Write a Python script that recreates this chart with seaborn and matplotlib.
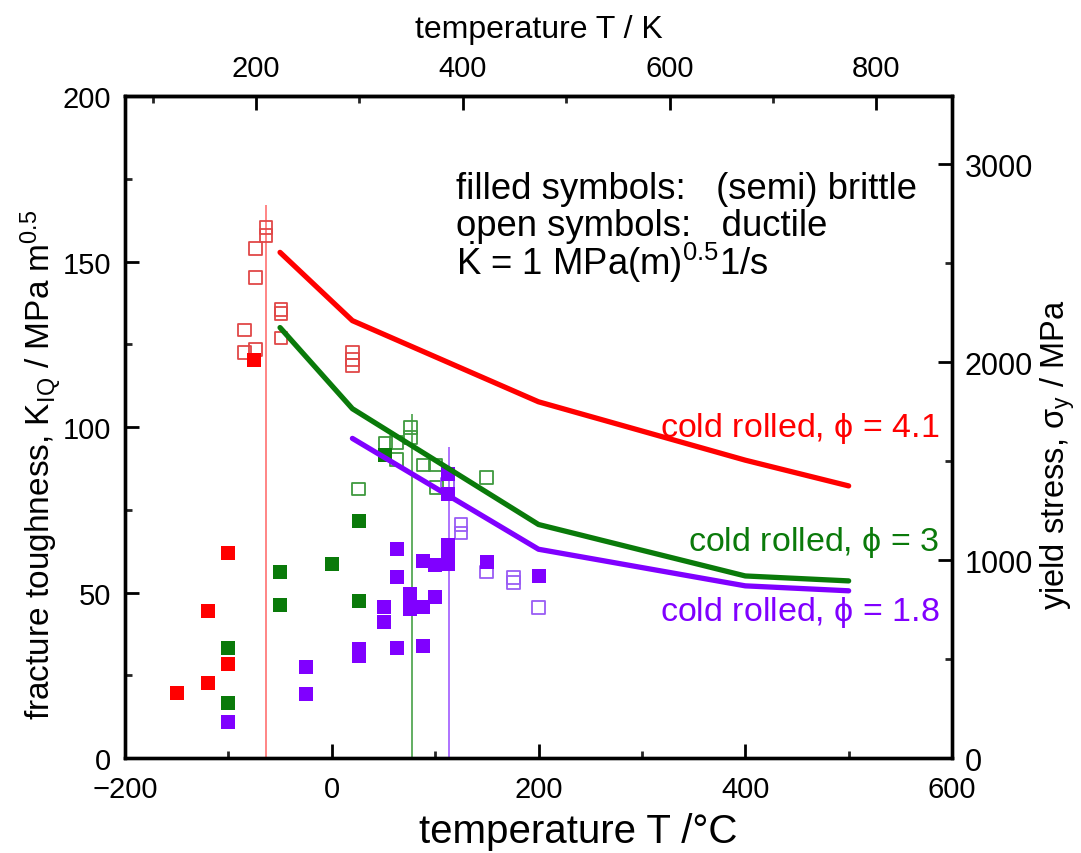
import matplotlib
matplotlib.use("Agg")
import matplotlib.pyplot as plt
import seaborn as sns
import numpy as np
import pandas as pd
from matplotlib.ticker import MultipleLocator, FixedLocator

# ---------------- data ----------------
# fracture toughness points (T in deg C, K_IQ in MPa m^0.5)
red_filled_T = [-150, -120, -100, -120, -100, -75]
red_filled_K = [19.6, 22.6, 28.4, 44.5, 62.0, 120.3]
red_open_T = [-63.5, -63.5, -73.5, -73.5, -49, -49, -49, -84, -84, -73.5, 20, 20, 20]
red_open_K = [160.3, 157.8, 154.0, 145.1, 135.6, 134.4, 126.9, 129.3, 122.6, 123.5, 122.5, 120.5, 118.7]

green_filled_T = [-100, -100, -50, -50, 0, 26, 26, 52]
green_filled_K = [33.1, 16.5, 56.3, 46.2, 58.6, 71.7, 47.5, 91.5]
green_open_T = [26, 52, 63, 76, 76, 63, 89, 100, 101, 150]
green_open_K = [81.3, 95.2, 95.4, 99.9, 96.9, 90.3, 88.5, 88.5, 81.8, 84.8]

purple_filled_T = [-100, -25, -25, 26, 26, 51, 51, 63, 63, 63, 76, 76, 76, 88, 88, 88,
                   100, 100, 112, 112, 112, 112, 112, 150, 200]
purple_filled_K = [11.0, 27.6, 19.3, 32.9, 30.9, 45.5, 41.0, 63.3, 54.6, 33.1, 49.5, 46.5, 45.0,
                   45.5, 33.9, 59.5, 48.5, 58.4, 58.6, 64.5, 62.5, 85.8, 79.8, 59.1, 55.1]
purple_open_T = [112, 125, 125, 150, 176, 176, 200]
purple_open_K = [82.8, 70.5, 68.0, 56.2, 54.6, 53.0, 45.5]

# transition temperatures (vertical markers) and their top values
trans_T = [-63.5, 77.5, 113.5]
trans_top = [167, 104, 94]

# yield stress curves (MPa)
ys_red_T = [-50, 20, 200, 400, 500]
ys_red = [2555, 2210, 1800, 1505, 1375]
ys_green_T = [-50, 20, 200, 400, 500]
ys_green = [2175, 1765, 1180, 920, 895]
ys_purple_T = [20, 200, 400, 500]
ys_purple = [1615, 1055, 870, 845]

top_major = [200, 400, 600, 800]
top_minor = [100, 300, 500, 700]

RED, GREEN, PURPLE = "#ff0000", "#0a7a0a", "#8000ff"
RED_L, GREEN_L, PURPLE_L = "#e04848", "#3f9a3f", "#9a5cf5"
VRED, VGREEN, VPURPLE = "#ff7c7c", "#55a855", "#a868ff"

# ---------------- style ----------------
sns.set_theme(style="white")
plt.rcParams["font.family"] = ["Liberation Sans", "DejaVu Sans"]
plt.rcParams["mathtext.fontset"] = "custom"
plt.rcParams["mathtext.rm"] = "Liberation Sans"
plt.rcParams["mathtext.it"] = "Liberation Sans:italic"
plt.rcParams["mathtext.sf"] = "Liberation Sans"
plt.rcParams["text.color"] = "black"
plt.rcParams["axes.labelcolor"] = "black"

fig = plt.figure(figsize=(10.81, 8.54), dpi=100)
ax = fig.add_axes([0.1156, 0.1112, 0.7651, 0.7752])

# vertical transition lines
for t, top_v, c in zip(trans_T, trans_top, [VRED, VGREEN, VPURPLE]):
    ax.vlines(t, 0, top_v, color=c, lw=1.3, zorder=1)

FS = 90
OS = 85
def filled(T, K, c):
    sns.scatterplot(x=T, y=K, ax=ax, marker="s", s=FS, color=c, linewidth=0, zorder=3)

def opened(T, K, c):
    ax.scatter(T, K, marker="s", s=OS, facecolors="none", edgecolors=c, linewidths=1.3, zorder=2)

opened(red_open_T, red_open_K, RED_L)
opened(green_open_T, green_open_K, GREEN_L)
opened(purple_open_T, purple_open_K, PURPLE_L)
filled(red_filled_T, red_filled_K, RED)
filled(green_filled_T, green_filled_K, GREEN)
filled(purple_filled_T, purple_filled_K, PURPLE)

ax.set_xlim(-200, 600)
ax.set_ylim(0, 200)
ax.xaxis.set_major_locator(MultipleLocator(200))
ax.xaxis.set_minor_locator(MultipleLocator(100))
ax.yaxis.set_major_locator(MultipleLocator(50))
ax.yaxis.set_minor_locator(MultipleLocator(25))
ax.set_xlabel("temperature T /°C", fontsize=29, color="black")
ax.xaxis.set_label_coords(0.548, -0.082)
ax.set_ylabel(r"fracture toughness, K$_{\mathrm{IQ}}$ / MPa m$^{0.5}$", fontsize=24, color="black")
ax.yaxis.set_label_coords(-0.074, 0.444)

# right axis: yield stress
ax2 = ax.twinx()
sns.lineplot(x=ys_red_T, y=ys_red, ax=ax2, color=RED, lw=3.8, zorder=4)
sns.lineplot(x=ys_green_T, y=ys_green, ax=ax2, color=GREEN, lw=3.8, zorder=4)
sns.lineplot(x=ys_purple_T, y=ys_purple, ax=ax2, color=PURPLE, lw=3.8, zorder=4)
ax2.set_ylim(0, 3345)
ax2.yaxis.set_major_locator(MultipleLocator(1000))
ax2.yaxis.set_minor_locator(MultipleLocator(500))
ax2.set_ylabel(r"yield stress, $\mathrm{\sigma}_\mathrm{y}$ / MPa", fontsize=23.5, color="black")
ax2.yaxis.set_label_coords(1.104, 0.46)

# top axis: Kelvin
top = ax.secondary_xaxis("top", functions=(lambda t: t + 273.15, lambda k: k - 273.15))
top.xaxis.set_major_locator(FixedLocator(top_major))
top.xaxis.set_minor_locator(FixedLocator(top_minor))
top.set_xlabel("temperature T / K", fontsize=23, labelpad=12, color="black")

for a in (ax, ax2):
    for s in a.spines.values():
        s.set_linewidth(2.4)
        s.set_color("black")
for a in (ax, ax2, top):
    a.tick_params(which="major", direction="in", length=10, width=2, labelsize=21, colors="black", pad=10)
    a.tick_params(which="minor", direction="in", length=5, width=2)
ax2.tick_params(which="major", labelsize=22, pad=9)
ax.tick_params(axis="x", pad=12)
ax.tick_params(which="both", bottom=True, left=True, right=False, top=False)
ax2.tick_params(which="both", right=True, left=False)
top.tick_params(which="both", top=True)
top.spines["top"].set_linewidth(2.4)

# annotations
ax.text(120, 172, "filled symbols:   (semi) brittle", fontsize=26.3, color="black", va="center")
ax.text(120, 161, "open symbols:   ductile", fontsize=26.3, color="black", va="center")
ax.text(120, 150, r"$\dot{\mathrm{K}}$ = 1 MPa(m)$^{0.5}$1/s", fontsize=26.3, color="black", va="center")
ax.text(588, 100, r"cold rolled, $\mathrm{\phi}$ = 4.1", fontsize=24.5, color=RED, ha="right", va="center")
ax.text(588, 65.3, r"cold rolled, $\mathrm{\phi}$ = 3", fontsize=24.5, color=GREEN, ha="right", va="center")
ax.text(588, 44.4, r"cold rolled, $\mathrm{\phi}$ = 1.8", fontsize=24.5, color=PURPLE, ha="right", va="center")

fig.savefig("out.png", dpi=100)
